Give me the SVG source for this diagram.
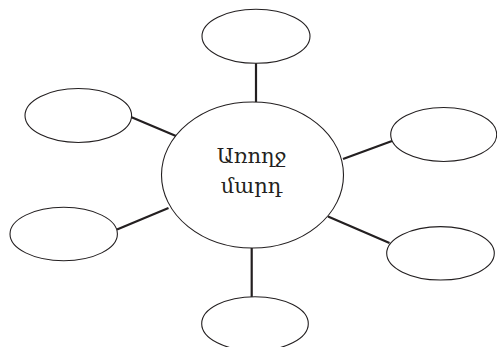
<svg xmlns="http://www.w3.org/2000/svg" width="497" height="347" viewBox="0 0 497 347">
<style>
.node ellipse{fill:#fff;stroke:#231f20;stroke-width:1.1}
.conn line{stroke:#231f20;stroke-width:2.2}
.lbl{font-family:"DejaVu Serif","Noto Sans",serif;font-size:21px;fill:#231f20;text-anchor:middle}
</style>
<rect width="497" height="347" fill="#fff"/>
<g id="connectors" class="conn">
<line x1="256" y1="63" x2="256" y2="102"/>
<line x1="131" y1="117" x2="176" y2="136"/>
<line x1="343" y1="159" x2="392" y2="141"/>
<line x1="117" y1="229.5" x2="168.5" y2="208"/>
<line x1="328" y1="216.5" x2="389.5" y2="243"/>
<line x1="251.7" y1="248" x2="251.7" y2="297"/>
</g>
<g id="center" class="node">
<ellipse cx="252.5" cy="175" rx="91" ry="73"/>
<text class="lbl" x="251.5" y="163">Առողջ</text>
<text class="lbl" x="251.5" y="193">մարդ</text>
</g>
<g id="top" class="node"><ellipse cx="256" cy="36.3" rx="54" ry="27"/></g>
<g id="upper-left" class="node"><ellipse cx="78.3" cy="115.5" rx="53.3" ry="27"/></g>
<g id="upper-right" class="node"><ellipse cx="443.7" cy="134.5" rx="53" ry="27"/></g>
<g id="lower-left" class="node"><ellipse cx="63.7" cy="234" rx="53.7" ry="26.7"/></g>
<g id="lower-right" class="node"><ellipse cx="440.5" cy="253.3" rx="53.8" ry="26.7"/></g>
<g id="bottom" class="node"><ellipse cx="255" cy="323.7" rx="53.3" ry="27"/></g>
</svg>
